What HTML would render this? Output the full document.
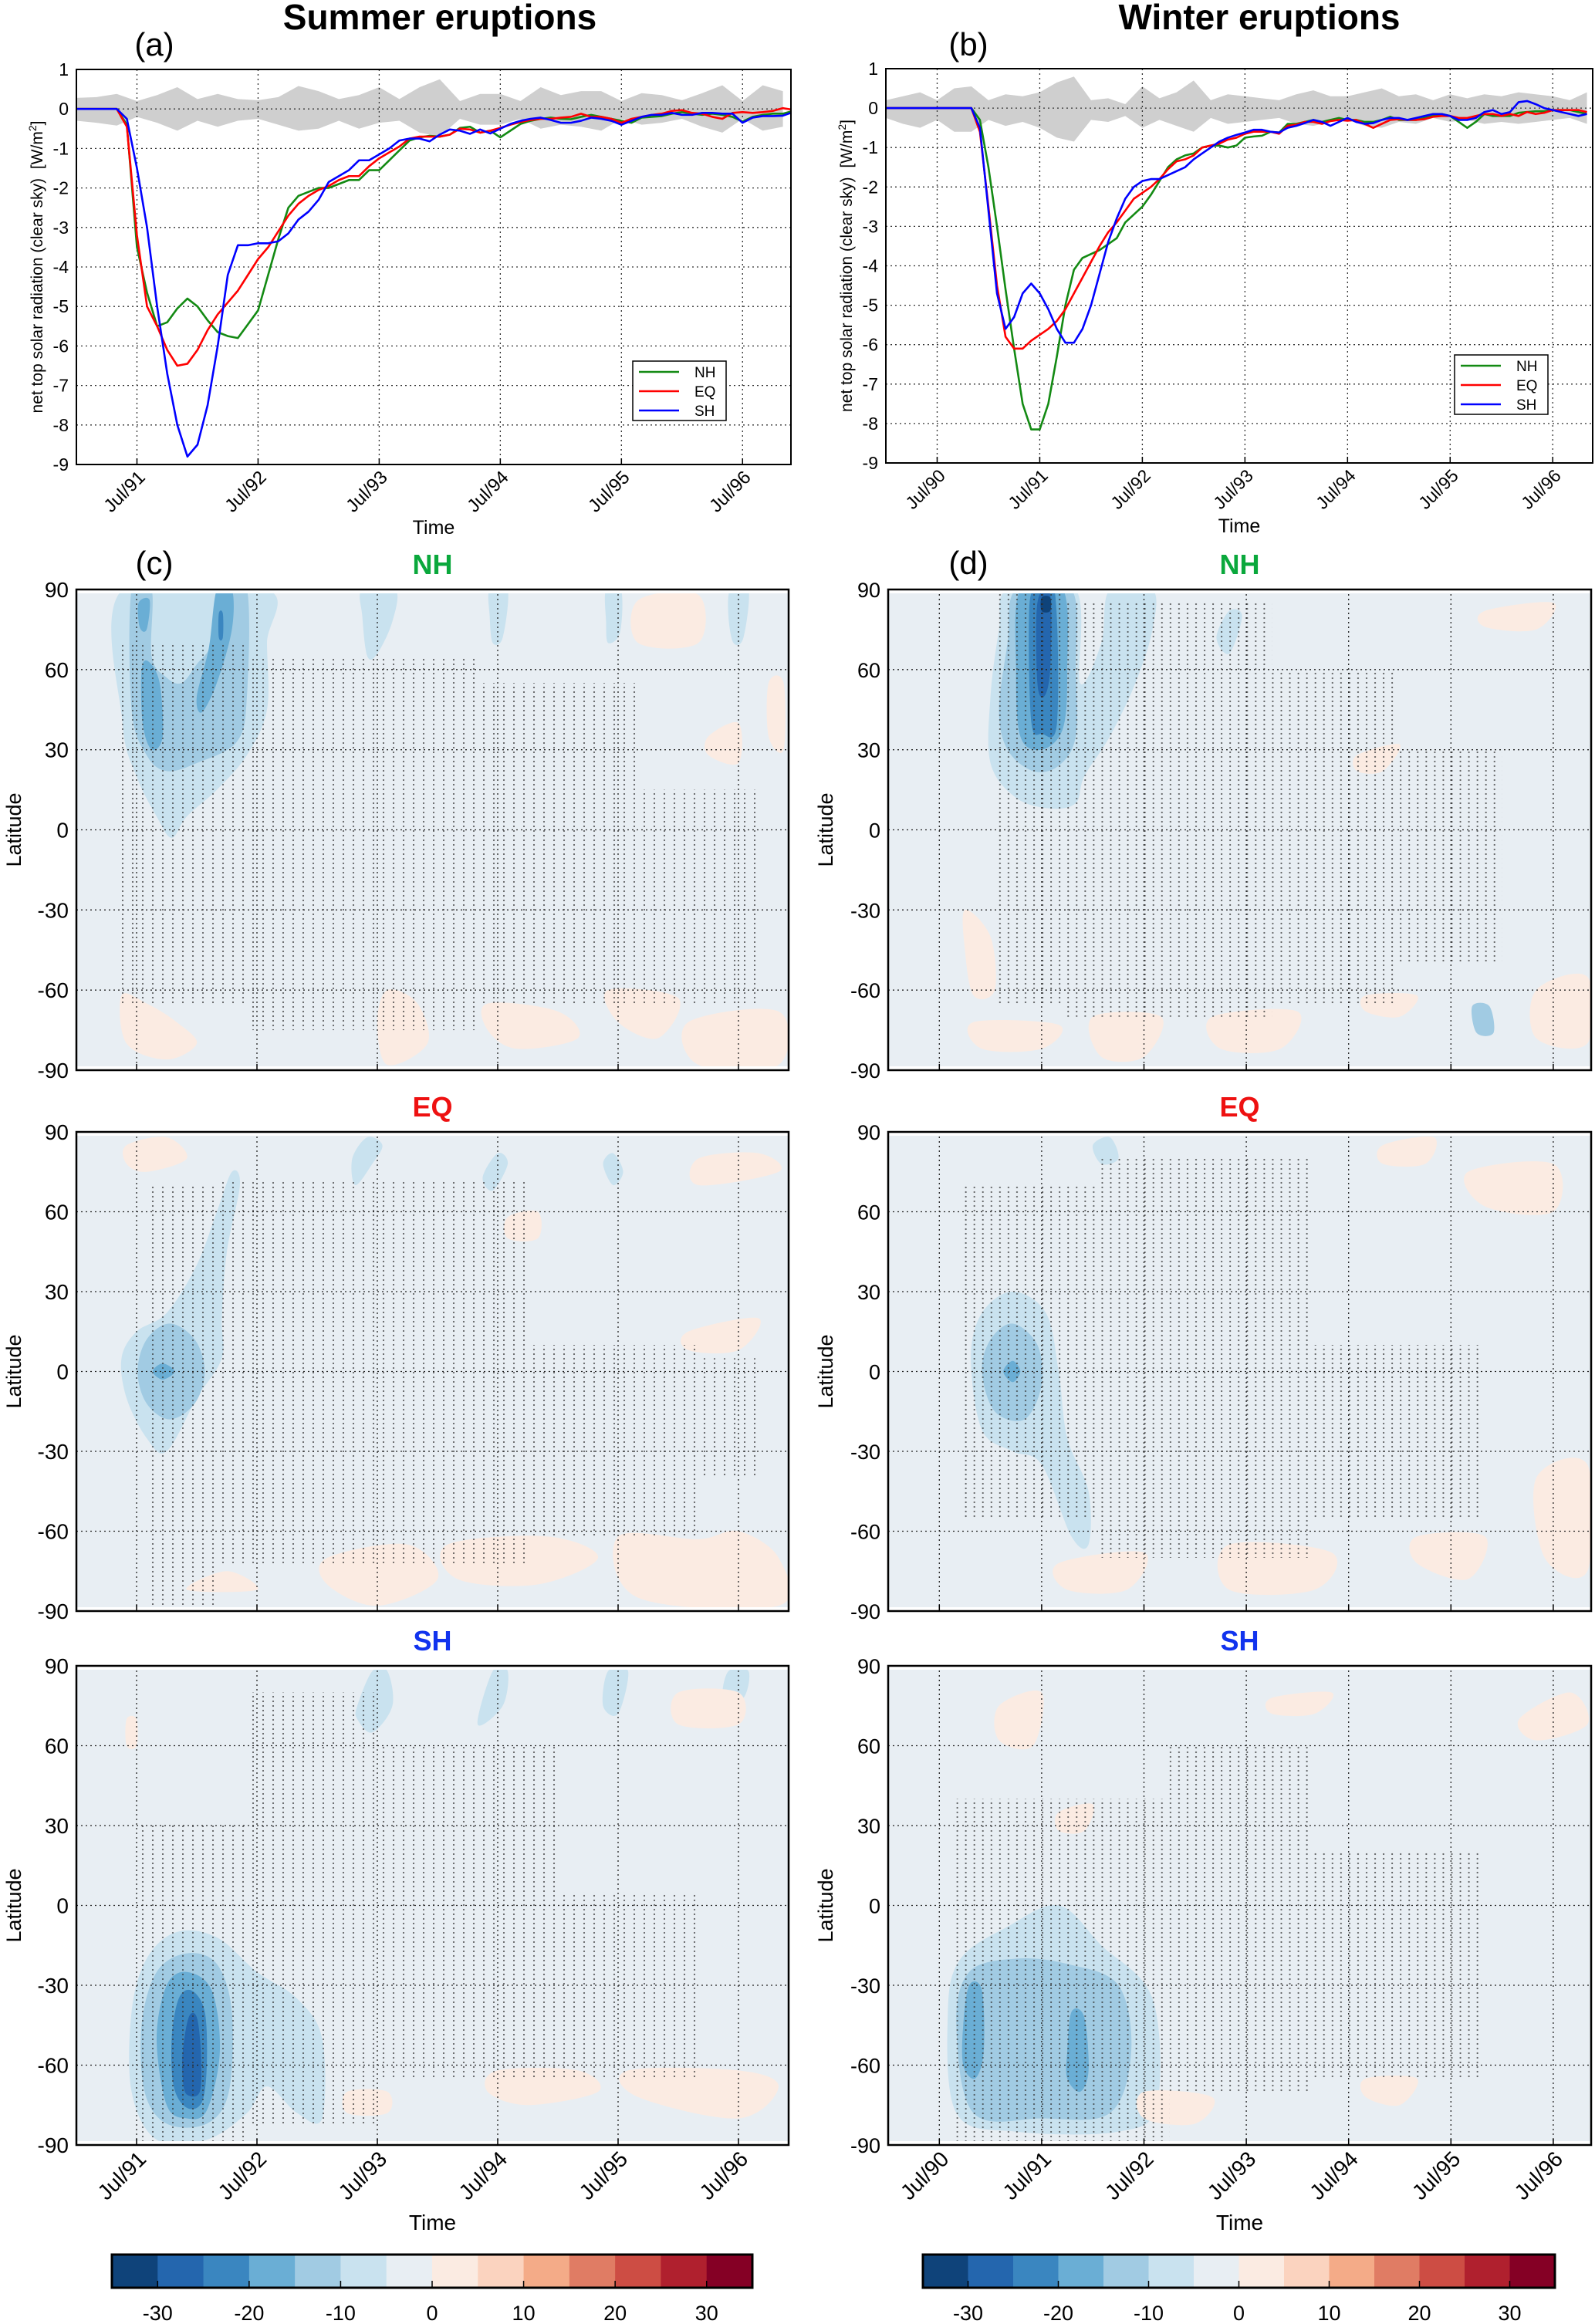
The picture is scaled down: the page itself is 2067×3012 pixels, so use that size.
<!DOCTYPE html>
<html><head><meta charset="utf-8">
<style>
html,body{margin:0;padding:0;background:#fff;}
svg{display:block;font-family:"Liberation Sans","DejaVu Sans",sans-serif;}
</style></head>
<body>
<svg id="fig" width="2067" height="3012" viewBox="0 0 2067 3012" xmlns="http://www.w3.org/2000/svg">
<defs>
<pattern id="stipL" width="13" height="6" patternUnits="userSpaceOnUse"><circle cx="3" cy="3" r="1.1" fill="#333"/></pattern>
<pattern id="stipR" width="11.05" height="6" patternUnits="userSpaceOnUse"><circle cx="3" cy="3" r="1.1" fill="#333"/></pattern>
</defs>
<g id="root"></g>
</svg>
<script>
// ---------- data: panel (a) summer eruptions, monthly from Jan/91 ----------
const monthsA_NH = [0,0,0,0,0,-0.4,-3.5,-4.65,-5.5,-5.4,-5.05,-4.8,-5.0,-5.35,-5.65,-5.75,-5.8,-5.45,-5.1,-4.2,-3.3,-2.5,-2.2,-2.1,-2.0,-2.0,-1.9,-1.8,-1.8,-1.55,-1.55,-1.3,-1.05,-0.8,-0.72,-0.68,-0.7,-0.65,-0.48,-0.45,-0.6,-0.55,-0.72,-0.55,-0.38,-0.3,-0.25,-0.22,-0.25,-0.26,-0.2,-0.15,-0.2,-0.25,-0.3,-0.35,-0.22,-0.2,-0.18,-0.12,-0.08,-0.12,-0.15,-0.12,-0.15,-0.2,-0.32,-0.2,-0.15,-0.12,-0.12,-0.05];
const monthsA_EQ = [0,0,0,0,0,-0.45,-3.2,-5.0,-5.5,-6.1,-6.5,-6.45,-6.1,-5.6,-5.2,-4.9,-4.6,-4.2,-3.8,-3.5,-3.1,-2.7,-2.4,-2.2,-2.05,-1.95,-1.8,-1.7,-1.7,-1.45,-1.25,-1.1,-0.95,-0.75,-0.7,-0.7,-0.7,-0.65,-0.5,-0.52,-0.6,-0.55,-0.48,-0.4,-0.33,-0.28,-0.25,-0.25,-0.22,-0.2,-0.12,-0.2,-0.2,-0.25,-0.35,-0.25,-0.2,-0.15,-0.12,-0.05,-0.03,-0.1,-0.12,-0.2,-0.25,-0.1,-0.08,-0.1,-0.08,-0.05,0.02,-0.02];
const monthsA_SH = [0,0,0,0,0,-0.25,-1.5,-3.0,-5.0,-6.7,-8.0,-8.8,-8.5,-7.5,-6.0,-4.2,-3.45,-3.45,-3.4,-3.4,-3.35,-3.15,-2.8,-2.6,-2.3,-1.85,-1.7,-1.55,-1.3,-1.3,-1.15,-1.0,-0.8,-0.75,-0.75,-0.82,-0.65,-0.52,-0.55,-0.63,-0.52,-0.62,-0.5,-0.38,-0.3,-0.25,-0.22,-0.28,-0.35,-0.35,-0.3,-0.22,-0.25,-0.3,-0.4,-0.3,-0.2,-0.15,-0.15,-0.1,-0.15,-0.15,-0.1,-0.1,-0.12,-0.12,-0.35,-0.22,-0.18,-0.18,-0.17,-0.08];
const bandA_up = [0.28,0.3,0.38,0.2,0.35,0.55,0.25,0.38,0.25,0.22,0.3,0.58,0.45,0.25,0.35,0.55,0.25,0.55,0.75,0.2,0.38,0.38,0.2,0.55,0.35,0.45,0.45,0.2,0.4,0.35,0.22,0.4,0.6,0.2,0.6,0.45];
const bandA_lo = [-0.3,-0.35,-0.42,-0.2,-0.35,-0.55,-0.3,-0.45,-0.3,-0.25,-0.4,-0.55,-0.5,-0.3,-0.5,-0.35,-0.3,-0.6,-0.7,-0.25,-0.4,-0.4,-0.25,-0.5,-0.4,-0.45,-0.55,-0.25,-0.4,-0.35,-0.25,-0.45,-0.6,-0.25,-0.55,-0.45];
// ---------- data: panel (b) winter eruptions, monthly from Jan/90 ----------
const monthsB_NH = [0,0,0,0,0,0,0,0,0,0,0,-0.3,-1.5,-3.0,-4.6,-6.1,-7.5,-8.15,-8.15,-7.5,-6.3,-5.0,-4.1,-3.8,-3.7,-3.6,-3.45,-3.3,-2.9,-2.7,-2.5,-2.2,-1.85,-1.5,-1.3,-1.2,-1.15,-1.0,-0.95,-0.95,-1.0,-0.95,-0.75,-0.72,-0.7,-0.6,-0.62,-0.4,-0.4,-0.35,-0.3,-0.35,-0.3,-0.25,-0.3,-0.3,-0.35,-0.35,-0.3,-0.22,-0.3,-0.3,-0.3,-0.25,-0.2,-0.15,-0.2,-0.35,-0.5,-0.35,-0.15,-0.2,-0.2,-0.2,-0.12,-0.1,-0.08,-0.08,-0.05,-0.05,-0.05,-0.1,-0.15];
const monthsB_EQ = [0,0,0,0,0,0,0,0,0,0,0,-0.6,-2.5,-4.5,-5.8,-6.1,-6.1,-5.9,-5.75,-5.6,-5.4,-5.1,-4.7,-4.3,-3.9,-3.5,-3.15,-2.9,-2.6,-2.3,-2.15,-2.0,-1.8,-1.55,-1.35,-1.3,-1.2,-1.0,-0.95,-0.9,-0.8,-0.75,-0.65,-0.6,-0.6,-0.6,-0.65,-0.45,-0.42,-0.35,-0.35,-0.4,-0.33,-0.3,-0.32,-0.3,-0.4,-0.5,-0.4,-0.3,-0.28,-0.3,-0.3,-0.28,-0.22,-0.2,-0.2,-0.25,-0.25,-0.2,-0.15,-0.15,-0.2,-0.15,-0.2,-0.1,-0.15,-0.12,-0.05,-0.05,-0.05,-0.05,-0.1];
const monthsB_SH = [0,0,0,0,0,0,0,0,0,0,0,-0.5,-2.6,-4.7,-5.6,-5.3,-4.7,-4.45,-4.7,-5.1,-5.6,-5.95,-5.95,-5.6,-5.0,-4.2,-3.4,-2.8,-2.3,-2.0,-1.85,-1.8,-1.8,-1.7,-1.6,-1.5,-1.3,-1.15,-1.0,-0.85,-0.75,-0.68,-0.62,-0.55,-0.55,-0.6,-0.62,-0.5,-0.45,-0.38,-0.3,-0.35,-0.45,-0.35,-0.25,-0.35,-0.4,-0.38,-0.3,-0.25,-0.25,-0.3,-0.25,-0.2,-0.15,-0.15,-0.2,-0.3,-0.3,-0.25,-0.1,-0.05,-0.15,-0.1,0.15,0.18,0.1,0.0,-0.05,-0.1,-0.15,-0.2,-0.15];
const bandB_up = [0.2,0.3,0.4,0.2,0.5,0.55,0.2,0.35,0.3,0.4,0.65,0.8,0.2,0.25,0.1,0.55,0.25,0.4,0.7,0.2,0.35,0.3,0.25,0.2,0.35,0.45,0.3,0.3,0.4,0.5,0.3,0.35,0.2,0.35,0.25,0.35,0.3,0.4,0.35,0.3,0.2,0.4];
const bandB_lo = [-0.25,-0.4,-0.5,-0.3,-0.6,-0.6,-0.3,-0.45,-0.35,-0.5,-0.75,-0.85,-0.3,-0.35,-0.2,-0.5,-0.3,-0.45,-0.6,-0.25,-0.4,-0.35,-0.3,-0.25,-0.4,-0.45,-0.35,-0.3,-0.45,-0.5,-0.35,-0.4,-0.25,-0.35,-0.3,-0.4,-0.35,-0.4,-0.35,-0.3,-0.25,-0.4];
const yTicksLine = [1,0,-1,-2,-3,-4,-5,-6,-7,-8,-9];
const legendNames = ["NH","EQ","SH"];
const seriesColors = ["#138a13","#ff0000","#0000ff"];
const xLabelsA = ["Jul/91","Jul/92","Jul/93","Jul/94","Jul/95","Jul/96"];
const xMonthsA = [6,18,30,42,54,66];
const xLabelsB = ["Jul/90","Jul/91","Jul/92","Jul/93","Jul/94","Jul/95","Jul/96"];
const xMonthsB = [6,18,30,42,54,66,78];
const latTicks = [90,60,30,0,-30,-60,-90];
// colorbar
const cbColors = ["#0f437a","#2466ae","#3a86c0","#6aaed5","#a1cbe3","#c9e2ef","#e8eef3","#fbebe2","#fbd3bf","#f4ab88","#e07c64","#cd4d44","#b0202e","#850025"];
const cbTicks = [-30,-20,-10,0,10,20,30];
// heatmap contour blobs: [colorIndex, [[month,lat],...]]
const cNH = [
 [5,[[4.6,90],[4.6,40],[6,20],[8,5],[9.5,-3],[11,5],[14,15],[17,28],[19,45],[19,70],[19,90]]],
 [4,[[5.5,90],[5.5,45],[7,28],[9,22],[12,25],[16,33],[17,50],[17,90],[14.5,90],[13.5,70],[12,62],[10.5,55],[9,57],[7.5,65],[7.5,90]]],
 [3,[[6.5,60],[6.6,40],[7.5,30],[8.6,35],[8.3,55],[7.2,63]]],
 [3,[[12,50],[12.5,44],[14,55],[15.5,75],[15.5,90],[14,90],[13.2,68]]],
 [3,[[6.2,85],[6.3,76],[7,75],[7.3,86]]],
 [2,[[14.2,81],[14.2,72],[14.6,72],[14.6,81]]],
 [5,[[28.5,80],[29,65],[30,66],[31.5,78],[31.8,90],[28.5,90]]],
 [5,[[41.2,80],[41.5,70],[42.5,72],[43,90],[41.2,90]]],
 [5,[[52.8,78],[53,70],[54.2,74],[54.3,90],[52.8,90]]],
 [5,[[65,80],[65.5,70],[66.5,72],[67,90],[65.2,90]]],
 [7,[[4.5,-62],[7,-65],[10,-72],[12,-80],[9,-86],[5,-80]]],
 [7,[[31,-60],[34,-65],[35,-80],[31,-88],[30,-72]]],
 [7,[[41,-65],[48,-68],[50,-78],[44,-82],[41,-75]]],
 [7,[[53,-60],[60,-63],[58,-78],[54,-72]]],
 [7,[[61,-72],[70,-68],[70,-88],[62,-88]]],
 [7,[[56,70],[62,70],[62,88],[56,86]]],
 [7,[[63,35],[66,40],[66,25],[63,28]]],
 [7,[[69,55],[70.5,55],[70.5,30],[69,35]]]
];
const cEQ = [
 [5,[[4.5,5],[6,15],[9,22],[12,40],[14,60],[15.5,75],[16.3,70],[15,45],[14.5,20],[14.5,5],[12,-10],[9,-30],[7,-25],[5,-10]]],
 [4,[[6.1,0],[7,12],[9.3,18],[11.8,12],[12.8,0],[11.8,-12],[9.3,-18],[7,-12]]],
 [3,[[7.6,0],[8.6,3],[9.8,0],[8.6,-3]]],
 [5,[[27.8,70],[29.5,78],[30.5,85],[29,88],[27.5,80]]],
 [5,[[40.5,73],[42,82],[43,78],[41.5,68]]],
 [5,[[52.5,78],[53.5,70],[54.5,75],[53.5,82]]],
 [7,[[5,85],[9,88],[11,80],[7,75],[5,78]]],
 [7,[[25,-70],[33,-65],[36,-78],[30,-88],[25,-80]]],
 [7,[[37,-65],[47,-62],[52,-70],[46,-80],[38,-78]]],
 [7,[[54,-62],[62,-63],[66,-60],[70,-70],[70,-88],[56,-85]]],
 [7,[[11,-82],[18,-82],[15,-75]]],
 [7,[[61,15],[68,20],[66,8],[61,8]]],
 [7,[[62,70],[70,75],[68,82],[62,80]]],
 [7,[[43,58],[46,60],[46,50],[43,50]]]
];
const cSH = [
 [5,[[5.5,-40],[7,-20],[10,-10],[14,-12],[18,-25],[22,-35],[24.5,-50],[24.5,-80],[22,-78],[19,-68],[17,-78],[13,-88],[8,-88],[5.5,-70]]],
 [4,[[6.5,-45],[8,-25],[11,-18],[14,-22],[15.5,-40],[15.2,-70],[13,-82],[9,-82],[6.8,-70]]],
 [3,[[8,-50],[9,-30],[11,-25],[13.5,-32],[14.3,-55],[13,-77],[11,-80],[9,-75]]],
 [2,[[9.5,-50],[10.2,-35],[11.5,-32],[12.8,-40],[13,-60],[12.5,-74],[11,-76],[9.7,-68]]],
 [1,[[10.6,-55],[11.2,-42],[12,-42],[12.4,-55],[12.3,-70],[11,-71],[10.6,-65]]],
 [5,[[28,75],[29.5,88],[31,88],[31.5,75],[29.5,65],[28,70]]],
 [5,[[40,68],[41.5,88],[43,88],[42.5,75]]],
 [5,[[52.5,75],[53,88],[55,88],[54,72]]],
 [5,[[64.5,78],[65,88],[67,88],[66.5,78]]],
 [7,[[42,-62],[50,-62],[52,-70],[45,-75],[41,-70]]],
 [7,[[55,-62],[66,-62],[70,-68],[66,-80],[56,-72]]],
 [7,[[27,-70],[31,-70],[31,-78],[27,-78]]],
 [7,[[60,80],[66,80],[66,68],[60,68]]],
 [7,[[5,70],[6,70],[6,60],[5,60]]]
];
const dNH = [
 [5,[[12,50],[12,25],[15,12],[19,8],[22,10],[23,20],[26,35],[29,55],[31,75],[31,90],[26,90],[25,70],[22.5,55],[22,90],[14,90],[13,75]]],
 [4,[[13,45],[14,30],[17,22],[20,24],[22,35],[22,60],[21.5,90],[15,90],[14,70]]],
 [3,[[15,60],[15.5,35],[18,30],[20.5,38],[21,60],[20.5,90],[15.5,90]]],
 [2,[[16.5,75],[16.8,40],[18,36],[19.8,40],[19.5,90],[17,90]]],
 [1,[[17.5,85],[17.5,55],[18.3,50],[19,60],[19,88]]],
 [0,[[18,87],[18,82],[19,82],[19,87]]],
 [5,[[38.5,72],[40,82],[41.5,80],[40,66]]],
 [4,[[68.5,-66],[70.5,-66],[71,-76],[69,-76]]],
 [7,[[9,-30],[12,-40],[12.5,-60],[10,-62],[9,-45]]],
 [7,[[24,-70],[32,-70],[30,-85],[25,-85]]],
 [7,[[38,-70],[48,-68],[46,-82],[39,-82]]],
 [7,[[10,-72],[20,-73],[18,-82],[11,-82]]],
 [7,[[56,-62],[62,-62],[60,-70],[56,-68]]],
 [7,[[76,-60],[82,-55],[82,-80],[76,-78]]],
 [7,[[55,28],[60,32],[58,22],[55,22]]],
 [7,[[70,82],[78,85],[76,75],[70,76]]]
];
const dEQ = [
 [5,[[9.7,5],[11,22],[14.6,30],[18.5,22],[20,0],[21,-25],[23.5,-45],[23.5,-65],[21.5,-62],[18,-35],[14.6,-30],[11,-22]]],
 [4,[[11,0],[12,12],[14.6,18],[17.5,10],[18,-5],[16,-18],[12.5,-15]]],
 [3,[[13.5,0],[14.6,4],[15.5,0],[14.6,-4]]],
 [5,[[24,85],[26,88],[27,80],[25,78]]],
 [4,[[49,-68],[51,-68],[51,-74],[49,-74]]],
 [7,[[68,75],[78,78],[78,60],[70,62]]],
 [7,[[58,85],[64,88],[63,78],[58,78]]],
 [7,[[20,-72],[30,-68],[28,-82],[21,-82]]],
 [7,[[40,-65],[52,-68],[50,-82],[40,-82]]],
 [7,[[62,-62],[70,-62],[68,-78],[62,-72]]],
 [7,[[76,-40],[82,-35],[82,-75],[77,-70]]]
];
const dSH = [
 [5,[[7,-40],[8.5,-20],[14,-8],[20,0],[25,-15],[31,-35],[31.5,-75],[27,-85],[15,-85],[8,-78]]],
 [4,[[8,-45],[9.5,-25],[15,-20],[21,-22],[27,-30],[28.5,-55],[26,-78],[18,-80],[10,-78]]],
 [3,[[8.8,-45],[9.5,-30],[11,-32],[11.2,-55],[10.2,-65],[8.8,-60]]],
 [3,[[21,-55],[21.5,-40],[23,-42],[23.5,-62],[22.5,-70],[21,-65]]],
 [7,[[13,75],[18,80],[17,60],[13,62]]],
 [7,[[74,70],[80,80],[82,68],[76,62]]],
 [7,[[45,78],[52,80],[50,72],[45,72]]],
 [7,[[30,-70],[38,-72],[36,-82],[30,-80]]],
 [7,[[56,-65],[62,-65],[60,-75],[56,-72]]],
 [7,[[20,35],[24,38],[23,28],[20,28]]]
];
// stippled (significance) regions: [m0,m1,latTop,latBottom]
const stipCNH = [[4,17,70,-65],[17,40,65,-75],[40,56,55,-65],[56,68,15,-65]];
const stipCEQ = [[7,14,70,-90],[14,45,72,-72],[45,62,10,-62],[62,68,5,-40]];
const stipCSH = [[6,17,30,-90],[17,30,80,-82],[30,48,60,-65],[48,62,5,-65]];
const stipDNH = [[12.5,21,90,-65],[21,45,85,-70],[45,60,60,-65],[60,72,30,-50]];
const stipDEQ = [[9,25,70,-55],[25,50,80,-70],[50,70,10,-55]];
const stipDSH = [[8,33,40,-90],[33,50,60,-70],[50,70,20,-65]];

// ---------- helpers ----------
const NS="http://www.w3.org/2000/svg";
const root=document.getElementById('root');
function mk(tag,attrs,parent){const e=document.createElementNS(NS,tag);for(const k in attrs)e.setAttribute(k,attrs[k]);(parent||root).appendChild(e);return e;}
function txt(s,attrs,parent){const e=mk('text',attrs,parent);e.textContent=s;return e;}
function smooth(pts){ // closed catmull-rom
  const n=pts.length;let d=`M${pts[0][0]},${pts[0][1]}`;
  for(let i=0;i<n;i++){const p0=pts[(i-1+n)%n],p1=pts[i],p2=pts[(i+1)%n],p3=pts[(i+2)%n];
    d+=` C${p1[0]+(p2[0]-p0[0])/6},${p1[1]+(p2[1]-p0[1])/6} ${p2[0]-(p3[0]-p1[0])/6},${p2[1]-(p3[1]-p1[1])/6} ${p2[0]},${p2[1]}`;}
  return d+'Z';}

// ---------- line panels ----------
function linePanel(cfg){
  const g=mk('g',{});
  
  
  const x=m=>cfg.L+m*cfg.pm, y=v=>cfg.T+(1-v)*(cfg.B-cfg.T)/10;
  const clipId=cfg.name+'-clip';
  const cp=mk('clipPath',{id:clipId},g);mk('rect',{x:cfg.L,y:cfg.T,width:cfg.R-cfg.L,height:cfg.B-cfg.T},cp);
  const inner=mk('g',{'clip-path':`url(#${clipId})`},g);
  // band
  let d='';cfg.up.forEach((v,i)=>{d+=(i?'L':'M')+x(i*2)+','+y(v);});
  for(let i=cfg.lo.length-1;i>=0;i--)d+='L'+x(i*2)+','+y(cfg.lo[i]);
  const band=mk('path',{d:d+'Z',fill:'#cfcfcf'},inner);
  
  
  // grid
  yTicksLine.forEach(v=>{mk('line',{x1:cfg.L,x2:cfg.R,y1:y(v),y2:y(v),stroke:'#333','stroke-width':1.3,'stroke-dasharray':'2,4'},inner);});
  cfg.xm.forEach(m=>{mk('line',{x1:x(m),x2:x(m),y1:cfg.T,y2:cfg.B,stroke:'#333','stroke-width':1.3,'stroke-dasharray':'2,4'},inner);});
  // series
  cfg.series.forEach((s,k)=>{
    const p=mk('polyline',{points:s.map((v,i)=>x(i)+','+y(v)).join(' '),fill:'none',stroke:seriesColors[k],'stroke-width':2.6,'stroke-linejoin':'round'},inner);
    
    
  });
  mk('rect',{x:cfg.L,y:cfg.T,width:cfg.R-cfg.L,height:cfg.B-cfg.T,fill:'none',stroke:'#000','stroke-width':2},g);
  yTicksLine.forEach(v=>{const t=txt(String(v),{x:cfg.L-10,y:y(v)+8,'font-size':23,'text-anchor':'end',fill:'#000'},g);
    
    });
  cfg.xm.forEach((m,i)=>{mk('line',{x1:x(m),x2:x(m),y1:cfg.B,y2:cfg.B-8,stroke:'#000','stroke-width':1.5},g);
    const t=txt(cfg.xl[i],{x:0,y:0,'font-size':cfg.fs,'text-anchor':'end',transform:`translate(${x(m)+12},${cfg.B+18}) rotate(-45)`},g);
    
    });
  const xt=txt('Time',{x:(cfg.L+cfg.R)/2,y:cfg.B+90,'font-size':25,'text-anchor':'middle'},g);
  
  
  const yt=mk('text',{x:0,y:0,'font-size':21,'text-anchor':'middle',transform:`translate(${cfg.L-44},${(cfg.T+cfg.B)/2}) rotate(-90)`},g);
  yt.innerHTML='net top solar radiation (clear sky)&#160;&#160;[W/m<tspan dy="-8" font-size="14">2</tspan><tspan dy="8">]</tspan>';
  
  
  // legend
  const lg=mk('g',{},g);
  
  
  mk('rect',{x:cfg.lx,y:cfg.ly,width:121,height:77,fill:'#fff',stroke:'#000','stroke-width':1.5},lg);
  legendNames.forEach((n,k)=>{const yy=cfg.ly+14+k*25;
    mk('line',{x1:cfg.lx+8,x2:cfg.lx+60,y1:yy,y2:yy,stroke:seriesColors[k],'stroke-width':2.5},lg);
    const t=txt(n,{x:cfg.lx+80,y:yy+7,'font-size':19},lg);
    
    });
}
linePanel({name:'panel-a',L:99,R:1025,T:90,B:602,pm:13.08,up:bandA_up,lo:bandA_lo,xm:xMonthsA,xl:xLabelsA,series:[monthsA_NH,monthsA_EQ,monthsA_SH],lx:820,ly:468,fs:24});
linePanel({name:'panel-b',L:1148,R:2064,T:89,B:600,pm:11.08,up:bandB_up,lo:bandB_lo,xm:xMonthsB,xl:xLabelsB,series:[monthsB_NH,monthsB_EQ,monthsB_SH],lx:1885,ly:460,fs:23});

// ---------- heatmaps ----------
function heatPanel(cfg){
  const g=mk('g',{});
  
  
  const x=m=>cfg.L+m*cfg.pm, y=l=>cfg.T+(90-l)/180*(cfg.B-cfg.T);
  const clipId=cfg.name+'-clip';
  const cp=mk('clipPath',{id:clipId},g);mk('rect',{x:cfg.L,y:cfg.T+5,width:cfg.R-cfg.L,height:cfg.B-cfg.T-10},cp);
  const inner=mk('g',{'clip-path':`url(#${clipId})`},g);
  mk('rect',{x:cfg.L,y:cfg.T,width:cfg.R-cfg.L,height:cfg.B-cfg.T,fill:cbColors[6]},inner);
  cfg.blobs.forEach(b=>{const p=mk('path',{d:smooth(b[1].map(q=>[x(q[0]),y(q[1])])),fill:cbColors[b[0]]},inner);
    
    });
  cfg.stip.forEach(s=>{const r=mk('rect',{x:x(s[0]),y:y(s[2]),width:x(s[1])-x(s[0]),height:y(s[3])-y(s[2]),fill:`url(#${cfg.pat})`,opacity:0.75},inner);
    
    });
  latTicks.forEach(l=>{mk('line',{x1:cfg.L,x2:cfg.R,y1:y(l),y2:y(l),stroke:'#222','stroke-width':1.3,'stroke-dasharray':'2,4'},inner);});
  cfg.xm.forEach(m=>{mk('line',{x1:x(m),x2:x(m),y1:cfg.T,y2:cfg.B,stroke:'#222','stroke-width':1.3,'stroke-dasharray':'2,4'},inner);});
  mk('rect',{x:cfg.L,y:cfg.T,width:cfg.R-cfg.L,height:cfg.B-cfg.T,fill:'none',stroke:'#000','stroke-width':2.5},g);
  latTicks.forEach(l=>{const t=txt(String(l),{x:cfg.L-10,y:y(l)+10,'font-size':cfg.fs,'text-anchor':'end'},g);
    
    });
  cfg.xm.forEach(m=>mk('line',{x1:x(m),x2:x(m),y1:cfg.B,y2:cfg.B-8,stroke:'#000','stroke-width':1.5},g));
  const yt=txt('Latitude',{x:0,y:0,'font-size':27,'text-anchor':'middle',transform:`translate(${cfg.L-72},${(cfg.T+cfg.B)/2}) rotate(-90)`},g);
  
  
  const tt=txt(cfg.title,{x:(cfg.L+cfg.R)/2,y:cfg.T-20,'font-size':36,'font-weight':'bold','text-anchor':'middle',fill:cfg.tc},g);
  
  
  if(cfg.xl){cfg.xm.forEach((m,i)=>{const t=txt(cfg.xl[i],{x:0,y:0,'font-size':28,'text-anchor':'end',transform:`translate(${x(m)+14},${cfg.B+20}) rotate(-45)`},g);
      
      });
    const xt=txt('Time',{x:(cfg.L+cfg.R)/2,y:cfg.B+110,'font-size':28,'text-anchor':'middle'},g);
    
    }
}
const colL={L:99,R:1022,pm:13.0,pat:'stipL',fs:28,xm:xMonthsA};
const colR={L:1151,R:2062,pm:11.05,pat:'stipR',fs:27,xm:xMonthsB};
heatPanel(Object.assign({name:'heatmap-c-nh',T:764,B:1387,blobs:cNH,stip:stipCNH,title:'NH',tc:'#0aa83c'},colL));
heatPanel(Object.assign({name:'heatmap-c-eq',T:1467,B:2088,blobs:cEQ,stip:stipCEQ,title:'EQ',tc:'#ee1111'},colL));
heatPanel(Object.assign({name:'heatmap-c-sh',T:2159,B:2780,blobs:cSH,stip:stipCSH,title:'SH',tc:'#1133ee',xl:xLabelsA},colL));
heatPanel(Object.assign({name:'heatmap-d-nh',T:764,B:1387,blobs:dNH,stip:stipDNH,title:'NH',tc:'#0aa83c'},colR));
heatPanel(Object.assign({name:'heatmap-d-eq',T:1467,B:2088,blobs:dEQ,stip:stipDEQ,title:'EQ',tc:'#ee1111'},colR));
heatPanel(Object.assign({name:'heatmap-d-sh',T:2159,B:2780,blobs:dSH,stip:stipDSH,title:'SH',tc:'#1133ee',xl:xLabelsB},colR));

// ---------- colorbars ----------
function colorbar(name,L,R){
  const g=mk('g',{});
  
  
  const T=2922,H=43,w=(R-L)/cbColors.length;
  cbColors.forEach((c,i)=>mk('rect',{x:L+i*w,y:T,width:w+0.5,height:H,fill:c},g));
  mk('rect',{x:L,y:T,width:R-L,height:H,fill:'none',stroke:'#000','stroke-width':3},g);
  cbTicks.forEach(v=>{const xx=L+(v+35)/70*(R-L);
    mk('line',{x1:xx,x2:xx,y1:T+H,y2:T+H-9,stroke:'#000','stroke-width':1.5},g);
    const t=txt(String(v),{x:xx,y:T+H+42,'font-size':27,'text-anchor':'middle'},g);
    
    });
}
colorbar('colorbar-left',145,975);
colorbar('colorbar-right',1196,2015);

// ---------- titles & panel labels ----------
[['Summer eruptions',570,38,'title-summer'],['Winter eruptions',1632,38,'title-winter']].forEach(a=>{
  const t=txt(a[0],{x:a[1],y:a[2],'font-size':46,'font-weight':'bold','text-anchor':'middle'});
  
  });
[['(a)',200,72],['(b)',1255,72],['(c)',200,744],['(d)',1255,744]].forEach(a=>{
  const t=txt(a[0],{x:a[1],y:a[2],'font-size':42,'text-anchor':'middle'});
  
  });
</script>
</body></html>
